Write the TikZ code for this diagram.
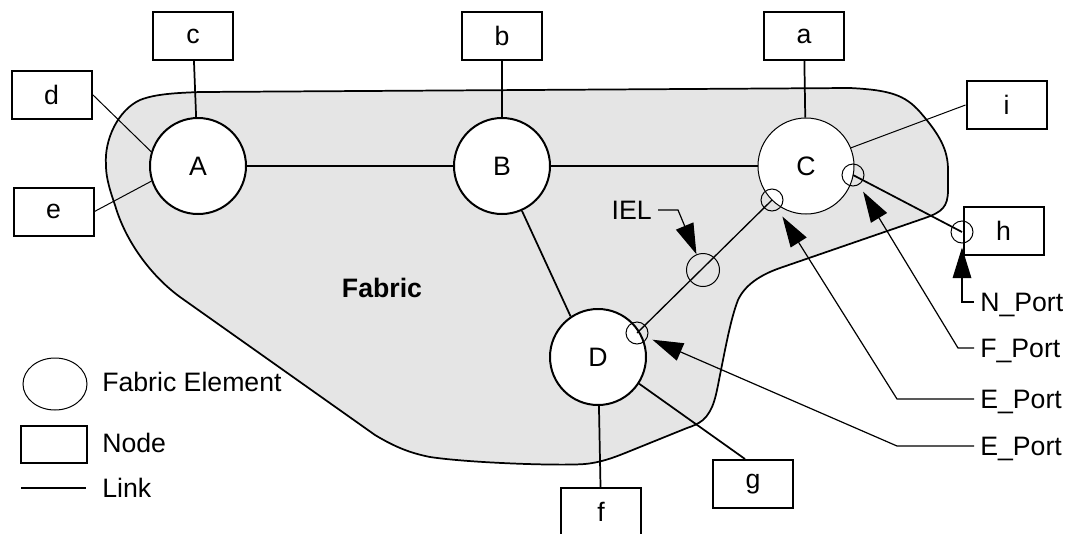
\documentclass[tikz,border=0pt]{standalone}
\usepackage{fontspec}
\setmainfont{Liberation Sans}
\usetikzlibrary{arrows.meta}
\tikzstyle{elem}=[fill=white, draw=black, shape=circle, line width=1.5pt, minimum size=72pt, inner sep=0pt]
\tikzstyle{nbox}=[fill=white, draw=black, shape=rectangle, line width=1.5pt, minimum width=60pt, minimum height=36pt, inner sep=0pt]
\tikzstyle{port}=[draw=black, shape=circle, line width=0.75pt, minimum size=16.5pt, inner sep=0pt]
\tikzstyle{lbl}=[anchor=west, inner sep=4.5pt, text depth=0pt]
\tikzstyle{link}=[line width=1.3pt]
\tikzstyle{thin link}=[line width=0.75pt]
\tikzstyle{lead}=[line width=0.9pt]
\tikzstyle{arr}=[lead, -{Triangle[length=23pt, width=14pt]}]

\begin{document}
\begin{tikzpicture}[x=0.75pt, y=-0.75pt, font=\fontsize{20}{23}\selectfont]
	\useasboundingbox (0,0) rectangle (1068,533);

	% fabric area
	\draw[line width=1.3pt, fill=black!10] (200,92) -- (850,88)
		.. controls (890,90) and (905,95) .. (920,112)
		.. controls (940,135) and (948,150) .. (948,170) -- (948,190)
		.. controls (948,207) and (942,212) .. (925,218) -- (780,268)
		.. controls (760,275) and (745,285) .. (738,300)
		.. controls (731,318) and (726,345) .. (720,375)
		.. controls (716,395) and (714,410) .. (703,420)
		.. controls (698,424) and (693,426) .. (687,428) -- (640,447)
		.. controls (620,455) and (605,462) .. (585,464)
		.. controls (560,466) and (470,463) .. (430,457)
		.. controls (410,453) and (395,447) .. (375,435) -- (180,297)
		.. controls (150,275) and (125,240) .. (115,205)
		.. controls (108,185) and (106,175) .. (106,165)
		.. controls (104,140) and (118,110) .. (140,100)
		.. controls (155,94) and (175,93) .. (200,92) -- cycle;
	\node[font=\fontsize{20}{23}\selectfont\bfseries] (fab) at (382,288) {Fabric};

	% fabric elements
	\node[style=elem] (A) at (198,166) {A};
	\node[style=elem] (B) at (502,166) {B};
	\node[style=elem, line width=0.75pt] (C) at (806,166) {C};
	\node[style=elem] (D) at (598,357) {D};

	% nodes
	\node[style=nbox] (c) at (193,36) {c};
	\node[style=nbox] (b) at (502,36) {b};
	\node[style=nbox] (a) at (804,36) {a};
	\node[style=nbox] (d) at (51.5,94.5) {d};
	\node[style=nbox] (e) at (53.5,211.5) {e};
	\node[style=nbox] (i) at (1006.5,105) {i};
	\node[style=nbox] (h) at (1003.5,231) {h};
	\node[style=nbox] (f) at (601,512) {f};
	\node[style=nbox] (g) at (753,484) {g};

	% ports
	\node[style=port] (cpr) at (853,175) {};
	\node[style=port] (cpl) at (772,200) {};
	\node[style=port] (dp) at (637,333) {};
	\node[style=port] (hp) at (962,232) {};
	\node[style=port, minimum size=24.75pt] (iel) at (703,270) {};

	% links
	\draw[link] (c) to (A);
	\draw[link] (b) to (B);
	\draw[link] (a) to (C);
	\draw[link] (A) to (B);
	\draw[link] (B) to (C);
	\draw[link] (B.-66) to (D.124);
	\draw[link] (D) to (f);
	\draw[link] (D.-33) to ([xshift=-6pt]g.north);
	\draw[link] (cpr.center) to (hp.center);
	\draw[line width=1pt] (cpl.center) to (dp.center);
	\draw[thin link] (d.east) to (A.163);
	\draw[thin link] (e.east) to (A.198);
	\draw[thin link] (i.west) to (C.22);

	% port labels
	\node[style=lbl, anchor=east] (ieltxt) at (658,210) {IEL};
	\node[style=lbl] (nport) at (974,302) {N\_Port};
	\node[style=lbl] (fport) at (974,348) {F\_Port};
	\node[style=lbl] (eport1) at (974,399) {E\_Port};
	\node[style=lbl] (eport2) at (974,446) {E\_Port};

	\draw[arr] (ieltxt.east) -- ++(20,0) -- (iel);
	\draw[arr, shorten >=3pt] (nport.west) -| (hp);
	\draw[arr, shorten >=6pt] (fport.west) -- ++(-16,0) -- (cpr);
	\draw[arr, shorten >=6pt] (eport1.west) -- ++(-77,0) -- (cpl);
	\draw[arr, shorten >=4pt] (eport2.west) -- ++(-77,0) -- (dp);

	% legend
	\draw[thin link] (55,384) ellipse [x radius=24pt, y radius=19.5pt];
	\node[style=lbl] (lgfe) at (96,382) {Fabric Element};
	\node[style=nbox, minimum width=49.5pt, minimum height=27.75pt] (lgbox) at (54,444) {};
	\node[style=lbl] (lgnode) at (96,443) {Node};
	\draw[lead] (21,488) -- (86,488);
	\node[style=lbl] (lglink) at (96,488) {Link};
\end{tikzpicture}
\end{document}
